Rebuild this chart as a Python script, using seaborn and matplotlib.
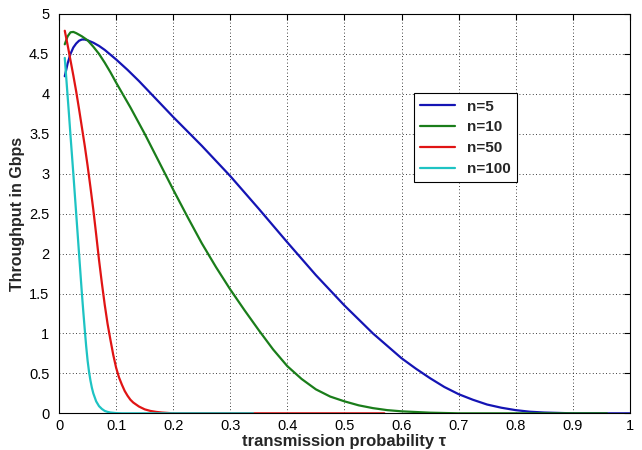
import numpy as np
import pandas as pd
import matplotlib
matplotlib.use("Agg")
import matplotlib.pyplot as plt
import seaborn as sns

# Values
TAU_N5 = [0.01, 0.015, 0.02, 0.025, 0.03, 0.035, 0.04, 0.045, 0.05, 0.06, 0.07,
          0.08, 0.09, 0.10, 0.12, 0.14, 0.16, 0.18, 0.20, 0.25, 0.30, 0.35, 0.40,
          0.45, 0.50, 0.55, 0.60, 0.625, 0.65, 0.675, 0.70, 0.725, 0.75, 0.775,
          0.80, 0.825, 0.85, 0.90, 1.00]
THR_N5 = [4.22, 4.38, 4.50, 4.58, 4.63, 4.665, 4.68, 4.68, 4.67, 4.64, 4.60,
          4.55, 4.49, 4.43, 4.30, 4.16, 4.01, 3.86, 3.71, 3.35, 2.97, 2.56, 2.14,
          1.73, 1.35, 1.00, 0.69, 0.56, 0.44, 0.33, 0.24, 0.17, 0.11, 0.07,
          0.04, 0.02, 0.01, 0.0, 0.0]

TAU_N10 = [0.01, 0.015, 0.02, 0.025, 0.03, 0.04, 0.05, 0.06, 0.07, 0.08, 0.09,
           0.10, 0.125, 0.15, 0.175, 0.20, 0.225, 0.25, 0.275, 0.30, 0.325, 0.35,
           0.375, 0.40, 0.425, 0.45, 0.475, 0.50, 0.525, 0.55, 0.575, 0.60, 0.65,
           0.70, 0.96]
THR_N10 = [4.62, 4.72, 4.77, 4.775, 4.76, 4.72, 4.67, 4.59, 4.50, 4.39, 4.27,
           4.14, 3.83, 3.50, 3.15, 2.80, 2.46, 2.13, 1.83, 1.55, 1.29, 1.04,
           0.80, 0.59, 0.43, 0.30, 0.21, 0.15, 0.10, 0.065, 0.04, 0.025, 0.008,
           0.0, 0.0]

TAU_N50 = [0.01, 0.015, 0.02, 0.025, 0.03, 0.035, 0.04, 0.045, 0.05, 0.055, 0.06,
           0.065, 0.07, 0.075, 0.08, 0.085, 0.09, 0.095, 0.10, 0.105, 0.11, 0.115,
           0.12, 0.125, 0.13, 0.14, 0.15, 0.16, 0.17, 0.18, 0.19, 0.20, 0.57]
THR_N50 = [4.79, 4.61, 4.42, 4.23, 4.03, 3.81, 3.58, 3.35, 3.10, 2.83, 2.55,
           2.24, 1.92, 1.63, 1.36, 1.12, 0.92, 0.73, 0.57, 0.45, 0.36, 0.28,
           0.22, 0.17, 0.135, 0.085, 0.05, 0.03, 0.018, 0.01, 0.005, 0.0, 0.0]

TAU_N100 = [0.01, 0.0125, 0.015, 0.0175, 0.02, 0.0225, 0.025, 0.0275, 0.03, 0.0325,
            0.035, 0.0375, 0.04, 0.0425, 0.045, 0.0475, 0.05, 0.0525, 0.055, 0.0575,
            0.06, 0.065, 0.07, 0.075, 0.08, 0.085, 0.09, 0.10, 0.11, 0.34]
THR_N100 = [4.45, 4.21, 3.97, 3.73, 3.48, 3.24, 3.00, 2.75, 2.50, 2.25,
            2.00, 1.75, 1.50, 1.27, 1.05, 0.84, 0.66, 0.52, 0.41, 0.32,
            0.25, 0.15, 0.09, 0.055, 0.03, 0.018, 0.01, 0.003, 0.0, 0.0]

LABELS = ["n=5", "n=10", "n=50", "n=100"]
COLORS = ["#1414b4", "#1a7d1a", "#e01414", "#1ec3c3"]

series = [(TAU_N5, THR_N5), (TAU_N10, THR_N10), (TAU_N50, THR_N50), (TAU_N100, THR_N100)]

sns.set_style("white")
plt.rcParams["font.family"] = ["Liberation Sans", "DejaVu Sans"]

fig = plt.figure(figsize=(6.42, 4.5), dpi=100)
ax = fig.add_axes([0.092, 0.0815, 0.889, 0.8875])

for (tau, thr), label, color in zip(series, LABELS, COLORS):
    df = pd.DataFrame({"tau": tau, "thr": thr})
    sns.lineplot(data=df, x="tau", y="thr", ax=ax, color=color, linewidth=1.6,
                 label=label, sort=False)

ax.set_xlim(0, 1)
ax.set_ylim(0, 5)
ax.set_xticks(np.arange(0, 1.01, 0.1))
ax.set_xticklabels(["0", "0.1", "0.2", "0.3", "0.4", "0.5", "0.6", "0.7", "0.8", "0.9", "1"])
ax.set_yticks(np.arange(0, 5.01, 0.5))
ax.set_yticklabels(["0", "0.5", "1", "1.5", "2", "2.5", "3", "3.5", "4", "4.5", "5"])

ax.grid(True, linestyle=(0, (1, 3)), color="black", linewidth=0.6)
ax.tick_params(direction="in", length=4, top=True, right=True, labelsize=10.5,
               colors="black")
ax.tick_params(axis="y", pad=7)
ax.tick_params(axis="x", pad=4)
for spine in ax.spines.values():
    spine.set_color("black")
    spine.set_linewidth(0.8)

ax.set_xlabel("transmission probability τ", fontsize=12, fontweight="bold", labelpad=1)
ax.set_ylabel("Throughput in Gbps", fontsize=11.5, fontweight="bold", labelpad=3)

leg = ax.legend(loc="upper left", bbox_to_anchor=(0.608, 0.82), fancybox=False,
                framealpha=1, edgecolor="black", prop={"weight": "bold", "size": 11},
                handlelength=2.3, borderpad=0.4, labelspacing=0.45)
leg.get_frame().set_linewidth(0.8)

fig.savefig("out.png", dpi=100)
